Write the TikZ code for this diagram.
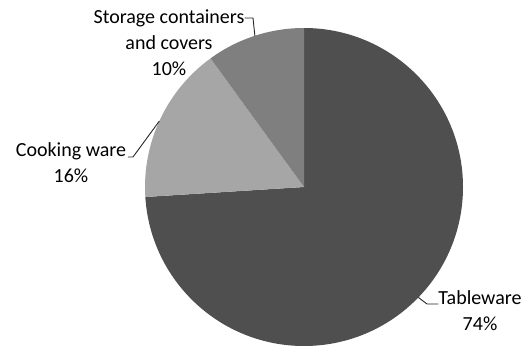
\documentclass[tikz,border=0pt]{standalone}
\usepackage{fontspec}
\setmainfont{Carlito}
\usetikzlibrary{calc}
\definecolor{tablegray}{HTML}{4F4F4F}
\definecolor{cookgray}{HTML}{A6A6A6}
\definecolor{storegray}{HTML}{7F7F7F}
\begin{document}
\begin{tikzpicture}[x=1pt,y=1pt,
  lbl/.style={align=center, inner sep=0pt, font=\fontsize{20}{26}\selectfont},
  leader/.style={draw=black!85, line width=0.9pt}]
\useasboundingbox (0,0) rectangle (530,354);
\coordinate (c) at (304,167);
\def\R{159}
% pie slices, clockwise from twelve o'clock
\fill[tablegray] (c) -- ++(90:\R) arc[start angle=90, end angle=-176.4, radius=\R] -- cycle;
\fill[cookgray] (c) -- ++(183.6:\R) arc[start angle=183.6, end angle=126, radius=\R] -- cycle;
\fill[storegray] (c) -- ++(126:\R) arc[start angle=126, end angle=90, radius=\R] -- cycle;
% labels
\node[lbl] (store) at (169,311) {Storage containers\\and covers\\10\%};
\node[lbl] (cook) at (71,191) {Cooking ware\\16\%};
\node[lbl] (table) at (480,43) {Tableware\\74\%};
% leader lines from slice edges to labels
\coordinate (pstore) at ($(c)+(108:\R)$);
\coordinate (pcook) at ($(c)+(155.5:\R)$);
\coordinate (ptable) at ($(c)+(-44:\R)$);
\coordinate (kstore) at (253,336);
\coordinate (kcook) at (133,197);
\coordinate (ktable) at (427,50);
\draw[leader] (pstore) -- (kstore) -- (kstore -| store.east);
\draw[leader] (pcook) -- (kcook) -- ++(-5,0);
\draw[leader] (ptable) -- (ktable) -- (ktable -| table.west);
\end{tikzpicture}
\end{document}
